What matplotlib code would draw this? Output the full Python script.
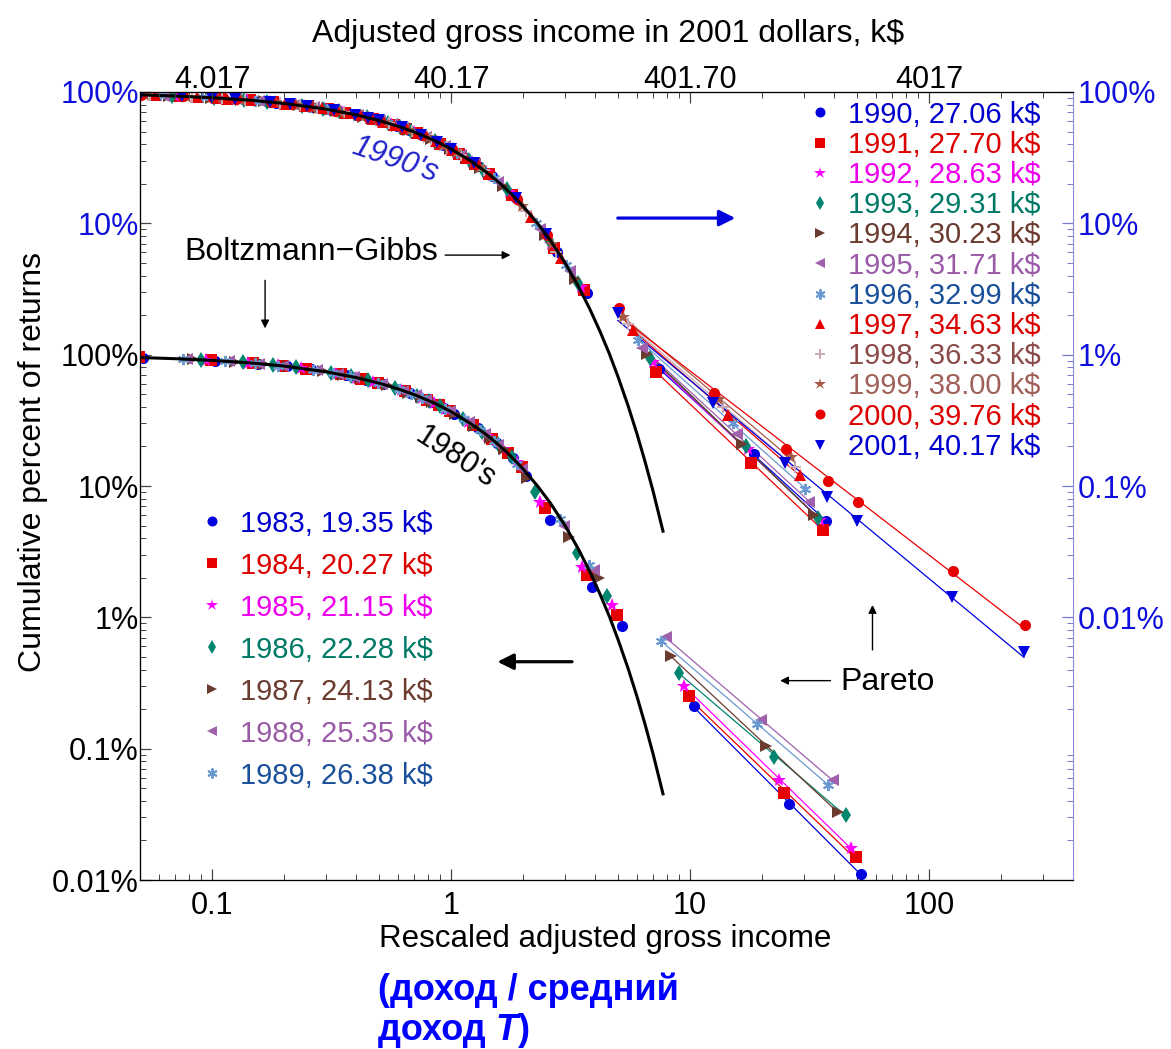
#!/usr/bin/env python
# coding=utf-8

import numpy as np
import matplotlib
matplotlib.use('Agg')
import matplotlib.pyplot as plt
from matplotlib.ticker import LogLocator, NullFormatter

plt.rcParams['font.family'] = ['Liberation Sans', 'DejaVu Sans']

# income brackets in k$ (nominal); rescaled income = bracket / average of the year
bulkBrackets = np.array([1, 2, 3, 4, 5, 7, 8.5, 10, 13, 16, 18, 20, 25, 30, 35, 40, 50, 75, 100])
tailBrackets = np.array([200, 500, 1000])
longTailBrackets = np.array([200, 500, 1000, 1500, 2000, 5000, 10000])

years80 = [1983, 1984, 1985, 1986, 1987, 1988, 1989]
avg80 = [19.35, 20.27, 21.15, 22.28, 24.13, 25.35, 26.38]
years90 = [1990, 1991, 1992, 1993, 1994, 1995, 1996, 1997, 1998, 1999, 2000, 2001]
avg90 = [27.06, 27.70, 28.63, 29.31, 30.23, 31.71, 32.99, 34.63, 36.33, 38.00, 39.76, 40.17]

# cumulative percent of returns above each bulk bracket
pct1983 = [95.0, 90.2, 85.6, 81.3, 77.2, 69.6, 64.4, 59.6, 51.1, 43.7, 39.5, 35.6, 27.5, 21.2, 16.4, 12.0, 5.5, 1.71, 0.86]
pct1984 = [95.2, 90.6, 86.2, 82.1, 78.1, 70.8, 65.8, 61.1, 52.7, 45.4, 41.2, 37.3, 29.1, 22.8, 17.8, 13.9, 6.8, 2.1, 1.04]
pct1985 = [95.4, 91.0, 86.8, 82.8, 79.0, 71.8, 66.9, 62.3, 54.1, 46.9, 42.7, 38.8, 30.7, 24.2, 19.1, 15.1, 7.6, 2.4, 1.24]
pct1986 = [95.6, 91.4, 87.4, 83.6, 79.9, 73.0, 68.3, 63.8, 55.8, 48.8, 44.6, 40.7, 32.6, 26.0, 20.8, 16.6, 9.0, 3.07, 1.46]
pct1987 = [96.0, 92.0, 88.3, 84.7, 81.3, 74.8, 70.3, 66.1, 58.3, 51.5, 47.4, 43.7, 35.5, 28.8, 23.4, 19.0, 11.5, 4.1, 1.98]
pct1988 = [96.2, 92.4, 88.9, 85.4, 82.1, 75.9, 71.5, 67.4, 59.9, 53.2, 49.2, 45.4, 37.3, 30.6, 25.1, 20.6, 13.5, 5.0, 2.3]
pct1989 = [96.3, 92.7, 89.2, 85.9, 82.7, 76.7, 72.5, 68.5, 61.1, 54.5, 50.6, 46.9, 38.8, 32.1, 26.5, 22.0, 14.8, 5.6, 2.5]

pct1990 = [96.4, 92.9, 89.5, 86.3, 83.1, 77.2, 73.0, 69.1, 61.9, 55.4, 51.4, 47.8, 39.7, 33.0, 27.4, 22.8, 15.8, 6.0, 2.95]
pct1991 = [96.5, 93.0, 89.8, 86.6, 83.5, 77.6, 73.6, 69.7, 62.6, 56.1, 52.2, 48.6, 40.5, 33.9, 28.3, 23.6, 16.4, 6.5, 3.1]
pct1992 = [96.6, 93.2, 90.0, 87.0, 83.9, 78.3, 74.3, 70.5, 63.5, 57.2, 53.3, 49.7, 41.8, 35.1, 29.4, 24.7, 17.4, 7.0, 3.3]
pct1993 = [96.7, 93.4, 90.3, 87.2, 84.3, 78.7, 74.8, 71.1, 64.2, 57.9, 54.1, 50.6, 42.6, 35.9, 30.3, 25.5, 18.2, 7.5, 3.5]
pct1994 = [96.8, 93.6, 90.5, 87.6, 84.8, 79.3, 75.5, 71.8, 65.0, 58.9, 55.1, 51.6, 43.7, 37.1, 31.4, 26.6, 19.1, 8.1, 3.8]
pct1995 = [96.9, 93.9, 90.9, 88.2, 85.4, 80.2, 76.5, 73.0, 66.4, 60.4, 56.7, 53.2, 45.5, 38.8, 33.2, 28.3, 20.6, 9.0, 4.3]
pct1996 = [97.0, 94.1, 91.3, 88.6, 85.9, 80.9, 77.3, 73.9, 67.4, 61.6, 58.0, 54.5, 46.9, 40.3, 34.6, 29.8, 22.0, 10.0, 4.8]
pct1997 = [97.1, 94.4, 91.7, 89.1, 86.6, 81.7, 78.2, 74.9, 68.7, 63.0, 59.5, 56.1, 48.6, 42.1, 36.4, 31.5, 23.6, 11.1, 5.4]
pct1998 = [97.2, 94.6, 92.0, 89.6, 87.1, 82.5, 79.1, 75.9, 69.9, 64.4, 60.9, 57.7, 50.3, 43.8, 38.2, 33.2, 25.3, 12.4, 6.1]
pct1999 = [97.4, 94.9, 92.4, 90.0, 87.6, 83.2, 80.0, 76.9, 71.0, 65.6, 62.3, 59.1, 51.8, 45.4, 39.8, 34.9, 26.8, 13.6, 7.0]
pct2000 = [97.5, 95.1, 92.8, 90.4, 88.2, 83.9, 80.8, 77.8, 72.1, 66.9, 63.6, 60.5, 53.3, 47.0, 41.5, 36.6, 28.4, 15.2, 8.1]
pct2001 = [97.5, 95.1, 92.8, 90.5, 88.3, 84.0, 80.9, 78.0, 72.3, 67.2, 63.9, 60.8, 53.7, 47.4, 41.8, 36.9, 28.8, 15.5, 8.3]

# cumulative percent above the Pareto tail brackets
tail1983 = [0.21, 0.038, 0.0112]
tail1984 = [0.25, 0.0456, 0.0150]
tail1985 = [0.30, 0.058, 0.0174]
tail1986 = [0.38, 0.087, 0.0313]
tail1987 = [0.51, 0.105, 0.0331]
tail1988 = [0.71, 0.166, 0.058]
tail1989 = [0.66, 0.155, 0.053]

tail1990 = [0.78, 0.175, 0.054]
tail1991 = [0.74, 0.150, 0.046]
tail1992 = [0.88, 0.190, 0.055]
tail1993 = [0.95, 0.200, 0.057]
tail1994 = [1.02, 0.210, 0.060]
tail1995 = [1.12, 0.250, 0.075]
tail1996 = [1.30, 0.300, 0.095]
tail1997 = [1.54, 0.350, 0.121]
tail1998 = [1.72, 0.400, 0.140]
tail1999 = [1.95, 0.460, 0.165]
tail2000 = [2.25, 0.51, 0.19, 0.110, 0.075, 0.0226, 0.0087]
tail2001 = [2.07, 0.43, 0.15, 0.083, 0.054, 0.0143, 0.0054]

# Boltzmann-Gibbs curve (fraction of returns)
bgX = [0.05, 0.07, 0.1, 0.15, 0.2, 0.3, 0.4, 0.5, 0.6, 0.7, 0.8, 0.9, 1.0, 1.2, 1.4, 1.6,
       1.8, 2.0, 2.3, 2.6, 3.0, 3.4, 3.8, 4.2, 4.6, 5.0, 5.5, 6.0, 6.5, 7.0, 7.7]
bgY = [0.951, 0.932, 0.905, 0.861, 0.819, 0.741, 0.670, 0.607, 0.549, 0.497, 0.449, 0.407,
       0.368, 0.301, 0.247, 0.202, 0.165, 0.135, 0.100, 0.0743, 0.0498, 0.0334, 0.0224,
       0.0150, 0.0101, 0.00674, 0.00409, 0.00248, 0.00150, 0.000912, 0.000453]

bulk80 = [pct1983, pct1984, pct1985, pct1986, pct1987, pct1988, pct1989]
tails80 = [tail1983, tail1984, tail1985, tail1986, tail1987, tail1988, tail1989]
bulk90 = [pct1990, pct1991, pct1992, pct1993, pct1994, pct1995, pct1996, pct1997,
          pct1998, pct1999, pct2000, pct2001]
tails90 = [tail1990, tail1991, tail1992, tail1993, tail1994, tail1995, tail1996, tail1997,
           tail1998, tail1999, tail2000, tail2001]

# styles
ASTER = (6, 2, 0)
markers80 = ['o', 's', '*', 'd', '>', '<', ASTER]
colors80 = ['#0000e0', '#e80000', '#ff00ff', '#00856f', '#6b3b2f', '#a060ac', '#6a98d0']
text80 = ['#0000cc', '#dd0000', '#ee00ee', '#007a66', '#6b3b2f', '#9a5aa8', '#1a4f9a']
markers90 = ['o', 's', '*', 'd', '>', '<', ASTER, '^', '+', '*', 'o', 'v']
colors90 = ['#0000e0', '#e80000', '#ff00ff', '#00856f', '#6b3b2f', '#a060ac', '#6a98d0',
            '#e80000', '#c8a8b8', '#a85a48', '#e80000', '#0000e0']
text90 = ['#0000cc', '#dd0000', '#ee00ee', '#007a66', '#6b3b2f', '#9a5aa8', '#1a4f9a',
          '#dd0000', '#8a4a48', '#a0605a', '#dd0000', '#0000cc']


def markerStyle(m, c):
    if m in (ASTER, '+'):
        return dict(marker=m, ms=8, mec=c, mfc=c, mew=1.4)
    if m == '*':
        return dict(marker=m, ms=10, mec=c, mfc=c, mew=0)
    return dict(marker=m, ms=8, mec=c, mfc=c, mew=0)


def plotGroup(ax, avgs, bulks, tails, scale, markers, colors, tailSets):
    handles = []
    for i in range(len(avgs)):
        xb = bulkBrackets / avgs[i]
        yb = np.array(bulks[i]) * scale
        xt = tailSets[i] / avgs[i]
        yt = np.array(tails[i]) * scale
        k, b = np.polyfit(np.log10(xt), np.log10(yt), 1)
        xs = np.array([xt[0], xt[-1]])
        ax.plot(xs, 10 ** (k * np.log10(xs) + b), color=colors[i], lw=0.9, zorder=2)
        h, = ax.plot(np.concatenate([xb, xt]), np.concatenate([yb, yt]), linestyle='none',
                     zorder=3, **markerStyle(markers[i], colors[i]))
        handles.append(h)
    return handles


fig = plt.figure(figsize=(11.71, 10.49), dpi=100, facecolor='white')
ax = fig.add_axes([0.1196, 0.1611, 0.7968, 0.7512])
ax.set_xscale('log')
ax.set_yscale('log')
ax.set_xlim(0.05, 400)
ax.set_ylim(1e-4, 100)

h80 = plotGroup(ax, avg80, bulk80, tails80, 0.01, markers80, colors80,
                [tailBrackets] * len(years80))
sets90 = [tailBrackets] * 10 + [longTailBrackets] * 2
h90 = plotGroup(ax, avg90, bulk90, tails90, 1.0, markers90, colors90, sets90)

# Boltzmann-Gibbs curves: upper set is shifted up by two decades (percent scale)
ax.plot(bgX, np.array(bgY) * 100, color='black', lw=2.2, zorder=4)
ax.plot(bgX, bgY, color='black', lw=2.2, zorder=4)

tickSize = 22
ax.set_xticks([0.1, 1, 10, 100], ['0.1', '1', '10', '100'])
ax.set_yticks([1e-4, 1e-3, 1e-2, 1e-1, 1, 10, 100],
              ['0.01%', '0.1%', '1%', '10%', '100%', '10%', '100%'])
for lab in ax.get_yticklabels()[5:]:
    lab.set_color('#1010dd')
for axis in (ax.xaxis, ax.yaxis):
    axis.set_minor_locator(LogLocator(base=10, subs=np.arange(2, 10), numticks=20))
    axis.set_minor_formatter(NullFormatter())
ax.tick_params(which='both', direction='in', labelsize=tickSize, color='#444444')
ax.tick_params(which='major', length=8, width=0.9)
ax.tick_params(which='minor', length=4, width=0.7)
ax.tick_params(axis='x', pad=8)
ax.tick_params(axis='y', pad=1)
ax.spines['right'].set_visible(False)
ax.set_ylabel('Cumulative percent of returns', fontsize=23)
ax.yaxis.set_label_coords(-0.099, 0.531)
ax.set_xlabel('Rescaled adjusted gross income', fontsize=22.5)
ax.xaxis.set_label_coords(0.498, -0.056)

# top axis: income in 2001 dollars
axTop = ax.twiny()
axTop.set_xscale('log')
axTop.set_xlim(ax.get_xlim())
axTop.set_xticks([0.1, 1, 10, 100], ['4.017', '40.17', '401.70', '4017'])
axTop.xaxis.set_minor_locator(LogLocator(base=10, subs=np.arange(2, 10), numticks=20))
axTop.xaxis.set_minor_formatter(NullFormatter())
axTop.tick_params(which='both', direction='in', labelsize=tickSize, color='#444444', pad=-2)
axTop.tick_params(which='major', length=8, width=0.9)
axTop.tick_params(which='minor', length=4, width=0.7)
axTop.spines['right'].set_visible(False)
axTop.set_xlabel('Adjusted gross income in 2001 dollars, k$', fontsize=23)
axTop.xaxis.set_label_coords(0.502, 1.064)

# right axis for the 1990's
axRight = ax.twinx()
axRight.set_yscale('log')
axRight.set_ylim(ax.get_ylim())
axRight.set_yticks([0.01, 0.1, 1, 10, 100], ['0.01%', '0.1%', '1%', '10%', '100%'])
axRight.yaxis.set_minor_locator(LogLocator(base=10, subs=np.arange(2, 10), numticks=20))
axRight.yaxis.set_minor_formatter(NullFormatter())
axRight.tick_params(which='both', direction='in', labelsize=tickSize, color='#7777cc',
                    labelcolor='#1010dd', pad=3)
axRight.tick_params(which='major', length=8, width=0.9)
axRight.tick_params(which='minor', length=4, width=0.7)
axRight.spines['right'].set_color('#8888dd')

# legends
labels90 = ['%d, %.2f k$' % (y, a) for y, a in zip(years90, avg90)]
labels80 = ['%d, %.2f k$' % (y, a) for y, a in zip(years80, avg80)]
leg90 = ax.legend(h90, labels90, loc='upper left', bbox_to_anchor=(0.719, 0.989),
                  frameon=False, fontsize=21, labelcolor=text90, handlelength=0.6,
                  handletextpad=0.66, labelspacing=0.075, borderpad=0, borderaxespad=0,
                  markerscale=0.9)
ax.add_artist(leg90)
ax.legend(h80, labels80, loc='upper left', bbox_to_anchor=(0.068, 0.470),
          frameon=False, fontsize=21, labelcolor=text80, handlelength=0.6,
          handletextpad=0.66, labelspacing=0.48, borderpad=0, borderaxespad=0,
          markerscale=0.9)

# annotations
thin = dict(arrowstyle='-|>', color='black', lw=1, mutation_scale=12, shrinkA=0, shrinkB=0)
ax.text(0.273, 0.914, "1990's", transform=ax.transAxes, fontsize=22, style='italic',
        color='#2222cc', rotation=-19, ha='center', va='center')
ax.text(0.338, 0.536, "1980's", transform=ax.transAxes, fontsize=22, color='black',
        rotation=-33, ha='center', va='center')
ax.text(0.184, 0.797, 'Boltzmann\u2212Gibbs', transform=ax.transAxes, fontsize=23,
        ha='center', va='center')
ax.annotate('', xy=(0.397, 0.793), xytext=(0.327, 0.793), xycoords='axes fraction',
            arrowprops=thin)
ax.annotate('', xy=(0.134, 0.700), xytext=(0.134, 0.761), xycoords='axes fraction',
            arrowprops=thin)
ax.text(0.751, 0.251, 'Pareto', transform=ax.transAxes, fontsize=23, ha='left', va='center')
ax.annotate('', xy=(0.686, 0.253), xytext=(0.740, 0.253), xycoords='axes fraction',
            arrowprops=thin)
ax.annotate('', xy=(0.785, 0.349), xytext=(0.785, 0.292), xycoords='axes fraction',
            arrowprops=thin)
ax.annotate('', xy=(0.638, 0.840), xytext=(0.512, 0.840), xycoords='axes fraction',
            arrowprops=dict(arrowstyle='-|>', color='#0000dd', lw=2.3, mutation_scale=24,
                            shrinkA=0, shrinkB=0))
ax.annotate('', xy=(0.383, 0.277), xytext=(0.463, 0.277), xycoords='axes fraction',
            arrowprops=dict(arrowstyle='-|>', color='black', lw=2.3, mutation_scale=24,
                            shrinkA=0, shrinkB=0))

# blue caption below the axis title
capStyle = dict(color='#0000ff', fontsize=26, fontweight='bold', va='center')
fig.text(0.323, 0.056, '(доход / средний', **capStyle)
t1 = fig.text(0.323, 0.018, 'доход ', **capStyle)
renderer = fig.canvas.get_renderer()
bb = t1.get_window_extent(renderer).transformed(fig.transFigure.inverted())
t2 = fig.text(bb.x1, 0.018, 'T', style='italic', **capStyle)
bb2 = t2.get_window_extent(renderer).transformed(fig.transFigure.inverted())
fig.text(bb2.x1, 0.018, ')', **capStyle)

fig.savefig('out.png', dpi=100)
